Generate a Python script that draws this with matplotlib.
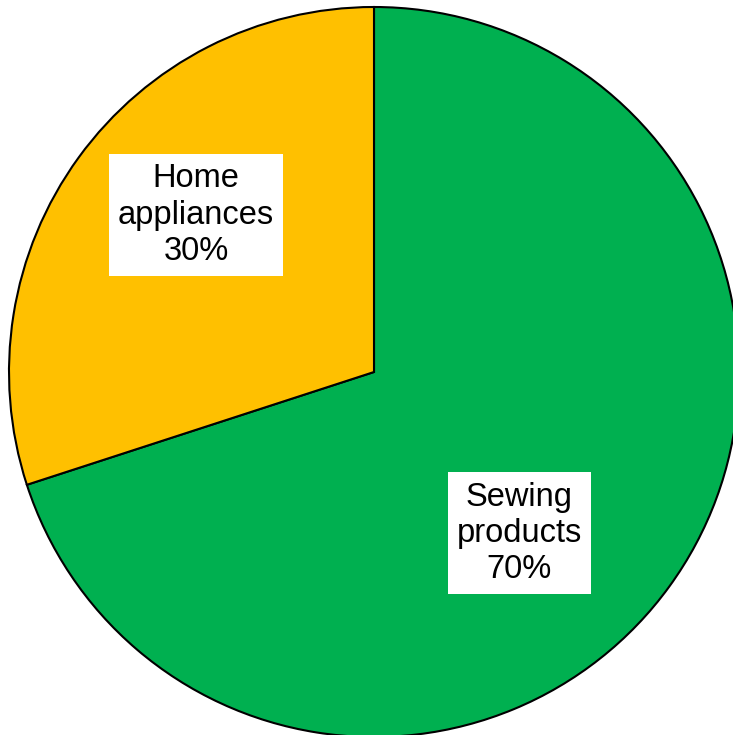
import matplotlib.pyplot as plt
import numpy as np

plt.rcParams['font.family'] = ['Liberation Sans', 'DejaVu Sans']

# Data
categories = ['Sewing\nproducts', 'Home\nappliances']
shares = [70, 30]
colors = ['#00B050', '#FFC000']

fig = plt.figure(figsize=(7.33, 7.35), dpi=100)
ax = fig.add_axes([0, 0, 1, 1])

# pie in pixel-like coordinates
cx, cy, r = 374, 735 - 372, 365
wedges, _ = ax.pie(shares, colors=colors, startangle=90, counterclock=False,
                   center=(cx, cy), radius=r,
                   wedgeprops=dict(edgecolor='black', linewidth=1.5))

# label placement (angle from centre, fraction of radius)
label_pos = [(-48, 0.595), (138.6, 0.65)]
for cat, val, (ang, frac) in zip(categories, shares, label_pos):
    a = np.deg2rad(ang)
    x = cx + frac * r * np.cos(a)
    y = cy + frac * r * np.sin(a)
    ax.text(x, y, f'{cat}\n{val}%', ha='center', va='center', fontsize=23.5,
            linespacing=1.22,
            bbox=dict(boxstyle='square,pad=0.28', facecolor='white', edgecolor='none'))

ax.set_xlim(0, 733)
ax.set_ylim(0, 735)
ax.set_aspect('equal')
ax.axis('off')

fig.savefig('out.png', dpi=100)
